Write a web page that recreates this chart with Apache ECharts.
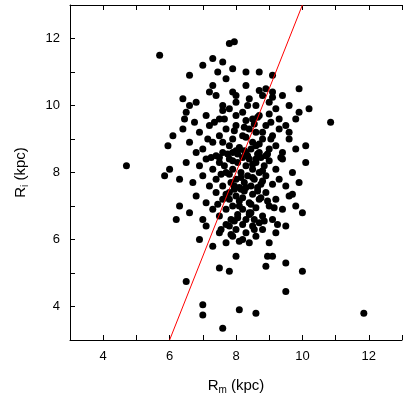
<!DOCTYPE html>
<html>
<head>
<meta charset="utf-8">
<script src="https://cdn.jsdelivr.net/npm/echarts@6/dist/echarts.min.js"></script>
<style>html,body{margin:0;padding:0;background:#fff}#c{width:405px;height:400px}</style>
</head>
<body>
<div id="c"></div>
<script>
// R_m, R_i pairs (kpc)
var rm = [4.7,5.7,6.5,7.0,7.0,7.6,8.1,8.6,9.5,10.0,11.85,10.85,7.8,7.95,5.85,5.95,6.2,7.5,7.8,8.9,8.95,9.1,9.5,8.0,7.3,7.45,8.3,8.7,9.1,9.6,
  6.6,7.0,7.6,7.7,7.9,8.3,8.9,9.9,6.4,6.6,7.3,
  6.5,6.8,7.2,7.4,7.6,7.8,8.0,8.2,8.4,8.6,8.8,9.0,9.2,9.4,9.6,9.8,9.1,8.5,7.1,7.5,9.9,10.2,7.9,8.7,9.3,
  6.1,6.4,6.6,6.9,7.0,7.2,7.3,7.5,7.6,7.7,7.8,7.9,8.0,8.1,8.2,8.3,8.4,8.5,8.6,8.7,8.8,8.9,9.0,9.1,9.2,9.3,9.4,9.6,9.8,10.1,6.8,7.4,8.05,8.45,8.65,7.95,8.25,8.55,9.05,7.15,9.5,
  6.0,6.3,6.5,6.7,6.9,7.0,7.1,7.2,7.3,7.4,7.5,7.6,7.7,7.8,7.85,7.9,8.0,8.05,8.1,8.15,8.2,8.25,8.3,8.35,8.4,8.45,8.5,8.55,8.6,8.65,8.7,8.75,8.8,8.85,8.9,9.0,9.1,9.2,9.3,9.4,9.5,9.7,9.9,10.1,7.95,8.3,7.65,7.55,8.75,
  6.3,6.6,6.8,7.0,7.1,7.3,7.4,7.5,7.6,7.7,7.8,7.85,7.9,8.0,8.05,8.1,8.2,8.25,8.3,8.4,8.45,8.5,8.6,8.7,8.8,8.9,9.0,9.1,9.2,9.4,9.6,9.8,10.0,7.95,8.15,8.55,
  6.9,7.1,7.5,7.7,7.8,7.9,8.0,8.1,8.3,8.4,8.5,8.6,8.8,9.0,9.2,9.5,7.3,8.2,
  7.75,7.9,8.1,8.35,8.5,8.7,8.9,7.6,8.0,8.3,8.6,8.8,9.05,7.7,7.95,8.2,8.45,8.65,8.95,7.45,7.8,8.1,8.4,8.75,9.15,7.55,7.85,8.2,8.55,8.85,
  7.65,8.0,8.3,8.65,9.0,7.8,8.15,8.5,8.8,7.5,7.9,8.25,8.6,8.95,7.7,8.05,8.4,8.7,9.25,7.35,7.6,8.0,8.35,8.7,9.1,6.75,7.25,9.35,9.7,6.45];
var ri = [8.2,11.5,4.75,4.05,3.75,3.35,3.9,3.8,4.45,5.05,3.8,9.5,11.85,11.9,7.9,8.8,6.6,5.15,5.05,5.2,5.5,5.5,5.3,5.5,11.4,11.0,11.0,11.0,10.9,9.2,
  10.9,11.2,11.3,10.8,11.1,10.6,10.5,10.5,10.2,10.0,10.6,
  9.8,10.1,10.4,10.3,10.0,9.9,10.1,9.8,10.2,10.0,10.3,10.1,9.9,10.3,10.0,9.6,10.4,9.6,9.7,9.6,9.8,9.9,10.4,9.7,9.6,
  9.1,9.3,8.9,9.2,8.7,9.4,8.9,9.1,8.6,9.3,8.8,9.0,9.4,8.7,9.1,8.6,9.3,8.9,9.2,8.6,9.0,9.4,8.7,9.1,8.8,9.3,8.6,9.0,8.7,8.8,8.6,8.5,8.55,8.7,8.55,9.25,9.35,9.45,9.5,9.0,9.4,
  8.1,7.8,8.3,7.7,8.2,7.9,8.4,7.6,8.1,7.8,8.3,7.6,8.0,8.4,7.7,8.1,7.8,8.3,7.55,8.0,8.45,7.7,8.2,7.9,8.4,7.6,8.1,7.8,8.3,7.55,8.0,8.45,7.75,8.2,7.9,8.35,7.65,8.1,7.8,8.4,7.6,8.0,7.7,8.3,7.6,7.55,8.2,7.95,7.65,
  7.0,6.8,7.3,6.6,7.1,6.9,7.4,6.7,7.2,6.9,7.4,6.6,7.0,7.3,6.75,7.15,6.9,7.45,6.6,7.1,6.8,7.35,6.95,7.2,6.7,7.4,7.0,6.6,7.2,6.9,7.3,7.0,6.8,6.55,7.5,6.6,
  6.0,6.4,6.2,5.9,6.4,6.1,6.3,5.95,6.2,5.9,6.4,6.1,6.3,5.9,6.2,6.4,5.8,6.45,
  8.55,8.35,8.75,8.5,8.25,8.85,8.5,8.9,8.65,9.05,8.8,9.2,9.0,7.35,7.5,7.25,7.05,7.45,7.15,7.05,7.2,7.0,6.8,7.25,6.95,6.3,6.15,6.0,6.3,6.55,
  9.6,9.7,9.55,9.65,9.75,7.95,7.85,7.85,8.05,8.45,8.6,8.65,8.4,8.55,6.45,6.65,6.75,6.5,6.45,9.5,9.85,10.3,10.0,10.45,10.25,9.5,8.45,8.45,7.35,9.6];
var fitX = [6, 10];
var fitY = [3, 13];

var pts = rm.map(function (x, i) { return [x, ri[i]]; });
var fit = fitX.map(function (x, i) { return [x, fitY[i]]; });

var chart = echarts.init(document.getElementById('c'));
var font = 'Liberation Sans';
function evenOnly(v) { return v % 2 === 0 ? String(v) : ''; }
var axLine = { show: true, lineStyle: { color: '#000', width: 1 } };
var tick = { show: true, inside: true, length: 5, lineStyle: { color: '#000' } };

chart.setOption({
  animation: false,
  grid: { left: 70, top: 5, width: 345, height: 340 },
  xAxis: [{
    type: 'value', min: 3, max: 13, interval: 1,
    axisLine: axLine, axisTick: tick, splitLine: { show: false },
    axisLabel: { formatter: evenOnly, color: '#000', fontFamily: font, fontSize: 13, margin: 10 },
    name: 'R{s|m} (kpc)', nameLocation: 'middle', nameGap: 37,
    nameTextStyle: { color: '#000', fontFamily: font, fontSize: 15, rich: { s: { fontSize: 10, verticalAlign: 'bottom', padding: [8, 0, 0, 0], fontFamily: font } } }
  }, {
    type: 'value', position: 'top', min: 3, max: 13, interval: 1,
    axisLine: axLine, axisTick: tick, axisLabel: { show: false }, splitLine: { show: false }
  }],
  yAxis: [{
    type: 'value', min: 3, max: 13, interval: 1,
    axisLine: axLine, axisTick: tick, splitLine: { show: false },
    axisLabel: { formatter: evenOnly, color: '#000', fontFamily: font, fontSize: 13, margin: 10 },
    name: 'R{s|i} (kpc)', nameLocation: 'middle', nameGap: 40,
    nameTextStyle: { color: '#000', fontFamily: font, fontSize: 15, rich: { s: { fontSize: 10, verticalAlign: 'bottom', padding: [8, 0, 0, 0], fontFamily: font } } }
  }],
  series: [{
    type: 'scatter', data: pts, symbolSize: 7,
    itemStyle: { color: '#000', opacity: 1 }
  }, {
    type: 'line', data: fit, symbol: 'none',
    lineStyle: { color: '#ff0000', width: 1 }
  }]
});
</script>
</body>
</html>
